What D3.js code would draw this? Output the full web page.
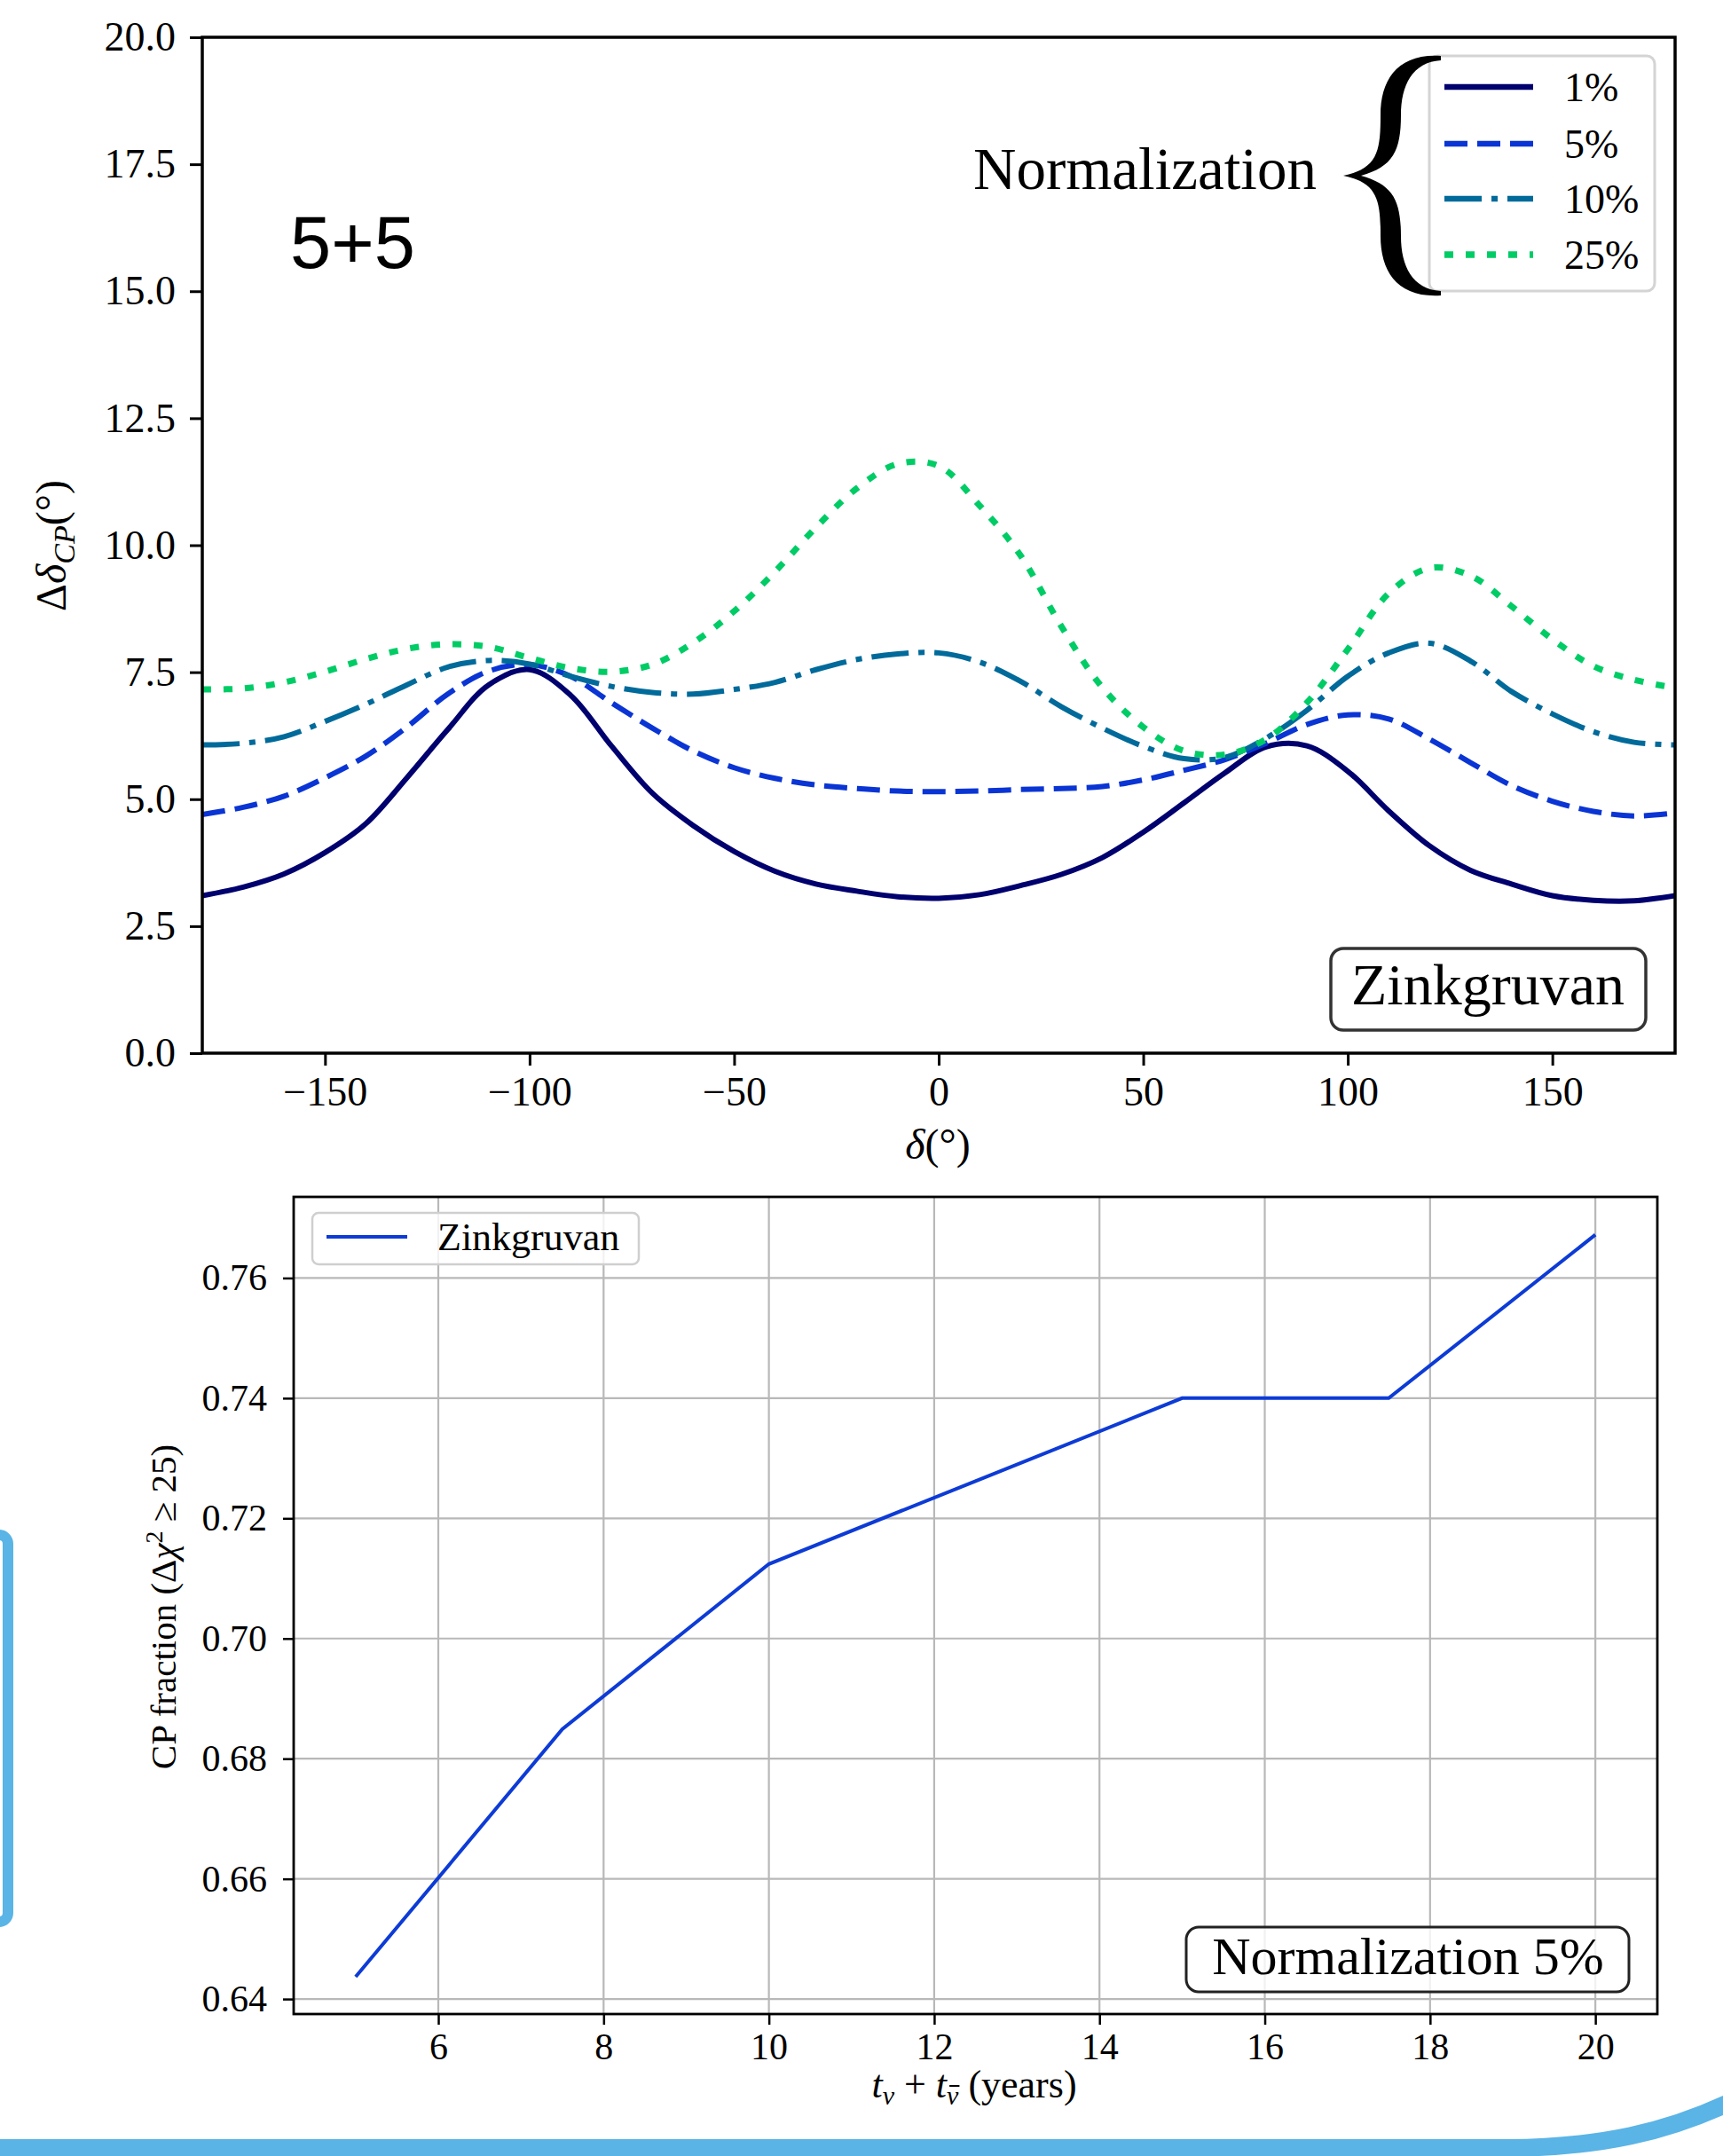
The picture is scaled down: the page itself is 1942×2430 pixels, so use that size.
<!DOCTYPE html>
<html><head><meta charset="utf-8">
<script src="https://cdn.jsdelivr.net/npm/d3@7"></script>
<style>
body{margin:0;background:#fff}
svg{display:block}
</style>
</head><body>
<svg id="c" width="1942" height="2430"></svg>
<script>
// ---------- data: top panel (Δδ_CP vs δ) ----------
const deltaCP = [-180,-170,-160,-150,-140,-130,-120,-110,-100,-90,-80,-70,-60,-50,-40,-30,-20,-10,0,10,20,30,40,50,60,70,80,90,100,110,120,130,140,150,160,170,180];
const norm1  = [3.10,3.27,3.53,3.95,4.52,5.42,6.37,7.25,7.55,7.05,6.05,5.12,4.48,3.97,3.58,3.33,3.19,3.08,3.05,3.12,3.30,3.52,3.85,4.35,4.93,5.52,6.03,6.05,5.55,4.77,4.08,3.60,3.33,3.10,3.01,3.00,3.10];
const norm5  = [4.70,4.84,5.06,5.42,5.85,6.42,7.07,7.52,7.65,7.42,6.90,6.40,5.95,5.62,5.41,5.28,5.21,5.16,5.15,5.16,5.19,5.21,5.25,5.38,5.57,5.78,6.10,6.47,6.66,6.58,6.18,5.72,5.27,4.96,4.76,4.67,4.73];
const norm10 = [6.07,6.10,6.23,6.53,6.87,7.25,7.60,7.73,7.66,7.42,7.22,7.10,7.07,7.16,7.30,7.55,7.75,7.86,7.88,7.70,7.32,6.82,6.40,6.04,5.80,5.82,6.20,6.75,7.42,7.88,8.07,7.72,7.12,6.68,6.33,6.12,6.07];
const norm25 = [7.16,7.18,7.30,7.51,7.76,7.96,8.05,8.00,7.78,7.58,7.51,7.65,8.08,8.70,9.48,10.35,11.12,11.60,11.56,10.78,9.80,8.40,7.20,6.42,5.95,5.88,6.18,6.90,7.95,9.05,9.55,9.40,8.80,8.15,7.62,7.35,7.19];
const seriesLabels = ["1%","5%","10%","25%"];
const seriesColors = ["#00006e","#0a35d4","#006a9a","#00cc66"];
const seriesDash   = [null,"26,11","42,11,7,11","10,14"];
const seriesWidth  = [6,6,6,7];
const xTicksTop = [-150,-100,-50,0,50,100,150];
const yTicksTop = [0,2.5,5,7.5,10,12.5,15,17.5,20];

// ---------- data: bottom panel (CP fraction vs exposure) ----------
const years = [5,7.5,10,12.5,15,17.5,20];
const cpFraction = [0.6437,0.6849,0.7124,0.7262,0.7400,0.7400,0.7672];
const xTicksBottom = [6,8,10,12,14,16,18,20];
const yTicksBottom = [0.64,0.66,0.68,0.70,0.72,0.74,0.76];

const SERIF = '"Liberation Serif","Times New Roman",serif';
const SANS = '"Liberation Sans",Arial,sans-serif';
const svg = d3.select("#c");
svg.append("rect").attr("width",1942).attr("height",2430).attr("fill","#fff");

// ================= TOP PANEL =================
const L=228,R=1888,T=42,B=1187;
const x = d3.scaleLinear().domain([-180,180]).range([L,R]);
const y = d3.scaleLinear().domain([0,20]).range([B,T]);

svg.append("clipPath").attr("id","clipTop").append("rect").attr("x",L).attr("y",T).attr("width",R-L).attr("height",B-T);

const series = [norm1,norm5,norm10,norm25];
const line = d3.line().x(d=>x(d[0])).y(d=>y(d[1])).curve(d3.curveCatmullRom.alpha(0.5));
const gLines = svg.append("g").attr("clip-path","url(#clipTop)");
series.forEach((s,i)=>{
  gLines.append("path").datum(deltaCP.map((d,j)=>[d,s[j]]))
    .attr("d",line).attr("fill","none")
    .attr("stroke",seriesColors[i]).attr("stroke-width",seriesWidth[i])
    .attr("stroke-dasharray",seriesDash[i]).attr("stroke-linejoin","round");
});

// axes
const gx = svg.append("g").attr("transform",`translate(0,${B})`)
  .call(d3.axisBottom(x).tickValues(xTicksTop).tickSize(14).tickPadding(12).tickFormat(d3.format("d")));
gx.select(".domain").remove();
gx.selectAll("line").attr("stroke","#000").attr("stroke-width",3);
gx.selectAll("text").attr("font-size",46).attr("font-family",SERIF).attr("fill","#000");

const gy = svg.append("g").attr("transform",`translate(${L},0)`)
  .call(d3.axisLeft(y).tickValues(yTicksTop).tickSize(14).tickPadding(16).tickFormat(d3.format(".1f")));
gy.select(".domain").remove();
gy.selectAll("line").attr("stroke","#000").attr("stroke-width",3);
gy.selectAll("text").attr("font-size",46).attr("font-family",SERIF).attr("fill","#000");

svg.append("rect").attr("x",L).attr("y",T).attr("width",R-L).attr("height",B-T)
  .attr("fill","none").attr("stroke","#000").attr("stroke-width",3.5);

// axis labels
const yl = svg.append("text").attr("transform","translate(74,615) rotate(-90)")
  .attr("text-anchor","middle").attr("font-family",SERIF).attr("font-size",48);
yl.append("tspan").text("Δ");
yl.append("tspan").attr("font-style","italic").text("δ");
yl.append("tspan").attr("font-style","italic").attr("font-size",34).attr("dy",10).text("CP");
yl.append("tspan").attr("dy",-10).text("(°)");

const xl = svg.append("text").attr("x",1057).attr("y",1306)
  .attr("text-anchor","middle").attr("font-family",SERIF).attr("font-size",48);
xl.append("tspan").attr("font-style","italic").text("δ");
xl.append("tspan").text("(°)");

// 5+5
svg.append("text").attr("x",327).attr("y",302).attr("font-family",SANS).attr("font-size",83).text("5+5");

// legend
svg.append("rect").attr("x",1611).attr("y",63).attr("width",254).attr("height",265).attr("rx",9)
  .attr("fill","#fff").attr("fill-opacity",0.8).attr("stroke","#d4d4d4").attr("stroke-width",3);
const legY = [98,162,224,287];
seriesLabels.forEach((lab,i)=>{
  svg.append("line").attr("x1",1628).attr("x2",1728).attr("y1",legY[i]).attr("y2",legY[i])
    .attr("stroke",seriesColors[i]).attr("stroke-width",seriesWidth[i]+0.5).attr("stroke-dasharray",seriesDash[i]);
  svg.append("text").attr("x",1763).attr("y",legY[i]).attr("dy","0.35em")
    .attr("font-family",SERIF).attr("font-size",46).text(lab);
});
// brace
svg.append("path").attr("fill","#000").attr("d",
  "M 1624 63 C 1575 60, 1556 90, 1556 130 C 1556 170, 1553 190, 1514 198 C 1553 206, 1556 226, 1556 266 C 1556 306, 1575 336, 1624 333 " +
  "L 1624 328 C 1592 326, 1579 300, 1579 266 C 1579 226, 1570 208, 1534 198 C 1570 188, 1579 170, 1579 130 C 1579 96, 1592 70, 1624 68 Z");
svg.append("text").attr("x",1097).attr("y",213).attr("font-family",SERIF).attr("font-size",67).text("Normalization");

// Zinkgruvan box
svg.append("rect").attr("x",1500).attr("y",1069).attr("width",355).attr("height",92).attr("rx",14)
  .attr("fill","#fff").attr("stroke","#333").attr("stroke-width",3.5);
svg.append("text").attr("x",1677).attr("y",1132).attr("text-anchor","middle")
  .attr("font-family",SERIF).attr("font-size",66).text("Zinkgruvan");

// ================= BOTTOM PANEL =================
const L2=331,R2=1868,T2=1349,B2=2270;
const x2 = d3.scaleLinear().domain([4.25,20.75]).range([L2,R2]);
const y2 = d3.scaleLinear().domain([0.6375,0.7735]).range([B2,T2]);

// grid
const grid = svg.append("g");
xTicksBottom.forEach(t=>grid.append("line").attr("x1",x2(t)).attr("x2",x2(t)).attr("y1",T2).attr("y2",B2)
  .attr("stroke","#b8b8b8").attr("stroke-width",2.2));
yTicksBottom.forEach(t=>grid.append("line").attr("x1",L2).attr("x2",R2).attr("y1",y2(t)).attr("y2",y2(t))
  .attr("stroke","#b8b8b8").attr("stroke-width",2.2));

const line2 = d3.line().x((d,i)=>x2(years[i])).y(d=>y2(d));
svg.append("path").datum(cpFraction).attr("d",line2).attr("fill","none")
  .attr("stroke","#0d3bd6").attr("stroke-width",4);

const gx2 = svg.append("g").attr("transform",`translate(0,${B2})`)
  .call(d3.axisBottom(x2).tickValues(xTicksBottom).tickSize(12).tickPadding(9).tickFormat(d3.format("d")));
gx2.select(".domain").remove();
gx2.selectAll("line").attr("stroke","#000").attr("stroke-width",2.5);
gx2.selectAll("text").attr("font-size",42).attr("font-family",SERIF).attr("fill","#000");

const gy2 = svg.append("g").attr("transform",`translate(${L2},0)`)
  .call(d3.axisLeft(y2).tickValues(yTicksBottom).tickSize(12).tickPadding(18).tickFormat(d3.format(".2f")));
gy2.select(".domain").remove();
gy2.selectAll("line").attr("stroke","#000").attr("stroke-width",2.5);
gy2.selectAll("text").attr("font-size",42).attr("font-family",SERIF).attr("fill","#000");

svg.append("rect").attr("x",L2).attr("y",T2).attr("width",R2-L2).attr("height",B2-T2)
  .attr("fill","none").attr("stroke","#000").attr("stroke-width",2.8);

// labels
const yl2 = svg.append("text").attr("transform","translate(198,1811) rotate(-90)")
  .attr("text-anchor","middle").attr("font-family",SERIF).attr("font-size",41);
yl2.append("tspan").text("CP fraction (Δ");
yl2.append("tspan").attr("font-style","italic").text("χ");
yl2.append("tspan").attr("font-size",28).attr("dy",-15).text("2");
yl2.append("tspan").attr("dy",15).text(" ≥ 25)");

const xl2 = svg.append("text").attr("x",1098).attr("y",2364)
  .attr("text-anchor","middle").attr("font-family",SERIF).attr("font-size",44);
xl2.append("tspan").attr("font-style","italic").text("t");
xl2.append("tspan").attr("font-style","italic").attr("font-size",30).attr("dy",8).text("ν");
xl2.append("tspan").attr("dy",-8).text(" + ");
xl2.append("tspan").attr("font-style","italic").text("t");
xl2.append("tspan").attr("font-style","italic").attr("font-size",30).attr("dy",8).text("ν");
xl2.append("tspan").attr("dy",-8).text(" (years)");
// macron over the second ν (antineutrino)
{
  const n = xl2.node();
  const idx = 6;
  const p0 = n.getStartPositionOfChar(idx), p1 = n.getEndPositionOfChar(idx);
  svg.append("line").attr("x1",p0.x+3).attr("x2",p1.x+1).attr("y1",p0.y-21).attr("y2",p0.y-21)
    .attr("stroke","#000").attr("stroke-width",2);
}

// legend
svg.append("rect").attr("x",352).attr("y",1367).attr("width",368).attr("height",58).attr("rx",7)
  .attr("fill","#fff").attr("fill-opacity",0.8).attr("stroke","#cfcfcf").attr("stroke-width",2.5);
svg.append("line").attr("x1",368).attr("x2",459).attr("y1",1394).attr("y2",1394)
  .attr("stroke","#0d3bd6").attr("stroke-width",4);
svg.append("text").attr("x",493).attr("y",1394).attr("dy","0.35em")
  .attr("font-family",SERIF).attr("font-size",44).text("Zinkgruvan");

// Normalization 5% box
svg.append("rect").attr("x",1337).attr("y",2172).attr("width",499).attr("height",73).attr("rx",14)
  .attr("fill","#fff").attr("fill-opacity",0.8).attr("stroke","#222").attr("stroke-width",3);
svg.append("text").attr("x",1587).attr("y",2225).attr("text-anchor","middle")
  .attr("font-family",SERIF).attr("font-size",60).text("Normalization 5%");

// ================= decorations =================
svg.append("rect").attr("x",-60).attr("y",1730).attr("width",69).attr("height",436).attr("rx",10)
  .attr("fill","none").attr("stroke","#5ab4e6").attr("stroke-width",12);
svg.append("path").attr("d","M -20 2421 L 1700 2421 C 1800 2420, 1880 2405, 1965 2362")
  .attr("fill","none").attr("stroke","#5ab4e6").attr("stroke-width",20);
</script>
</body></html>
